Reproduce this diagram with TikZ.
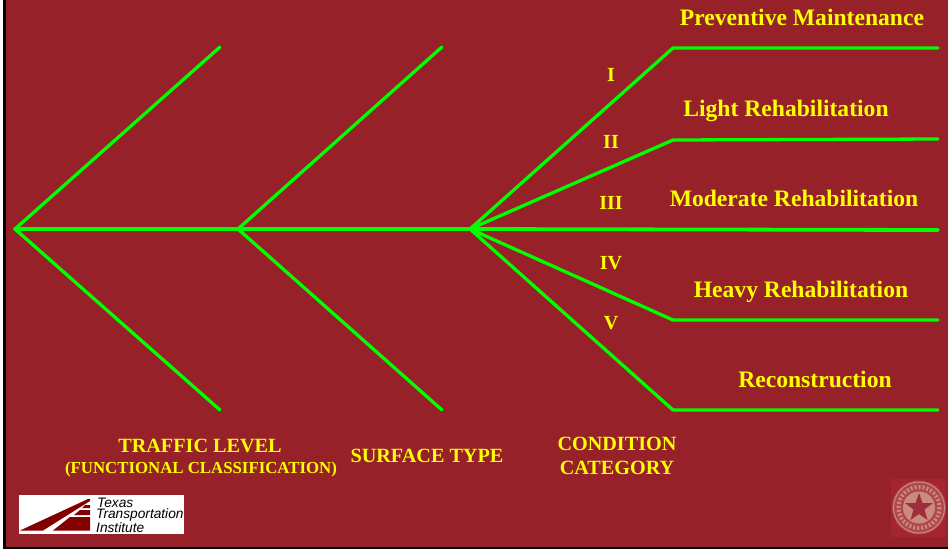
\documentclass[tikz,border=0pt]{standalone}
\usepackage{fontspec}
\setmainfont{Liberation Serif}
\newfontfamily\logofont{Liberation Sans}
\definecolor{bgred}{RGB}{150,33,41}
\definecolor{limeline}{RGB}{0,255,0}
\definecolor{labelyellow}{RGB}{255,255,0}
\definecolor{logored}{RGB}{130,0,0}
\definecolor{sealpale}{RGB}{200,140,125}
\definecolor{sealmid}{RGB}{178,70,78}
\definecolor{sealbg}{RGB}{165,36,50}
\definecolor{sealstar}{RGB}{160,45,60}
\tikzset{
  branch/.style={draw=limeline,line width=3.3pt,line join=round,line cap=round},
  lab/.style={text=labelyellow,font=\bfseries\fontsize{23.6}{26}\selectfont,inner sep=0pt,anchor=center},
  num/.style={text=labelyellow,font=\bfseries\fontsize{20}{22}\selectfont,inner sep=0pt,anchor=center},
  captext/.style={text=labelyellow,font=\bfseries\fontsize{20.2}{24}\selectfont,inner sep=0pt,anchor=center,align=center},
  logotext/.style={text=black,font=\logofont\itshape\fontsize{13.7}{11}\selectfont,inner sep=0pt,align=left},
}
\begin{document}
\begin{tikzpicture}[x=1pt,y=-1pt]
\useasboundingbox (0,0) rectangle (948,550);
\fill[white] (0,0) rectangle (948,550);
\fill[black] (3,0) rectangle (948,549);
\fill[bgred] (6,0) rectangle (948,547);
% junctions
\coordinate (J1) at (15,229);
\coordinate (J2) at (238,229);
\coordinate (J3) at (470,229);
\coordinate (A1) at (220,47);
\coordinate (A2) at (220,410);
\coordinate (B1) at (442,47);
\coordinate (B2) at (442,410);
\coordinate (C1) at (673,48);
\coordinate (C2) at (673,140);
\coordinate (C4) at (673,320);
\coordinate (C5) at (673,410);
\coordinate (D1) at (938,48);
\coordinate (D2) at (938,139);
\coordinate (D3) at (938,230);
\coordinate (D4) at (938,320);
\coordinate (D5) at (938,410);
\draw[branch] (A1) -- (J1) -- (A2);
\draw[branch] (B1) -- (J2) -- (B2);
\draw[branch] (J1) -- (J2) -- (J3);
\draw[branch,line width=3.8pt] (J3) -- (D3);
\draw[branch] (J3) -- (C1) -- (D1);
\draw[branch] (J3) -- (C2) -- (D2);
\draw[branch] (J3) -- (C4) -- (D4);
\draw[branch] (J3) -- (C5) -- (D5);
% labels
\node[lab] (l1) at (802,17) {Preventive Maintenance};
\node[lab] (l2) at (786,110.5) {Light Rehabilitation};
\node[lab] (l3) at (794,198) {Moderate Rehabilitation};
\node[lab] (l4) at (801,292) {Heavy Rehabilitation};
\node[lab] (l5) at (815,379) {Reconstruction};
\node[num] (n1) at (611,75) {I};
\node[num] (n2) at (611,141.5) {II};
\node[num] (n3) at (611,202.5) {III};
\node[num] (n4) at (611,263) {IV};
\node[num] (n5) at (611,323.5) {V};
\node[captext] (c1) at (200,445.5) {TRAFFIC LEVEL};
\node[text=labelyellow,font=\bfseries\fontsize{16.8}{18}\selectfont,inner sep=0pt] (c1b) at (201,469) {(FUNCTIONAL CLASSIFICATION)};
\node[captext] (c2) at (427,456) {SURFACE TYPE};
\node[captext] (c3) at (617,455.5) {CONDITION\\CATEGORY};
% TTI logo
\fill[white] (19,495) rectangle (184,534);
\fill[logored] (20,530.5) -- (88,499) -- (90,499) -- (90,501) -- (43,530.5) -- cycle;
\fill[logored] (53,530.5) -- (70,517) -- (90,517) -- (90,530.5) -- cycle;
\fill[logored] (74,515) -- (80,510) -- (90,510) -- (90,515) -- cycle;
\fill[logored] (82,508) -- (85,505) -- (90,505) -- (90,508) -- cycle;
\node[logotext,anchor=north west] (t1) at (96,498) {\hspace{1pt}Texas\\Transportation\\Institute};
% seal
\fill[sealbg] (891,479) rectangle (946,537);
\fill[sealmid] (919,507.5) circle (27);
\draw[sealpale,line width=1pt] (919,507.5) circle (25.5);
\draw[sealpale,line width=4pt,dash pattern=on 2pt off 2pt] (919,507.5) circle (20.5);
\fill[sealpale] (919,507.5) circle (16);
\fill[sealstar] (919,493) -- (922.5,503) -- (933,503) -- (924.5,509.5) -- (927.5,520) -- (919,514) -- (910.5,520) -- (913.5,509.5) -- (905,503) -- (915.5,503) -- cycle;
\end{tikzpicture}
\end{document}
